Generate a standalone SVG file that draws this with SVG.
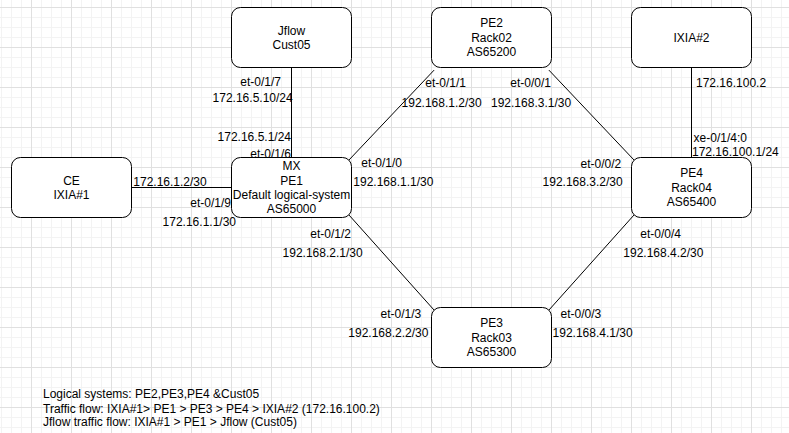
<svg xmlns="http://www.w3.org/2000/svg" width="789" height="433" viewBox="0 0 789 433">
<style>
.node rect{fill:#ffffff;stroke:#000000;stroke-width:1}
text{font-family:"Liberation Sans",Arial,Helvetica,sans-serif;font-size:12px;fill:#000000}
.c{text-anchor:middle}
.edges line{stroke:#000000;stroke-width:1;fill:none}
</style>
<defs>
<pattern id="grid" patternUnits="userSpaceOnUse" x="31" y="7" width="40" height="40">
<path d="M10.5 0V40M20.5 0V40M30.5 0V40M0 10.5H40M0 20.5H40M0 30.5H40" stroke="#f3f3f3" stroke-width="1" fill="none"/>
<path d="M0.5 0V40M0 0.5H40" stroke="#e0e0e0" stroke-width="1" fill="none"/>
</pattern>
</defs>
<rect x="0" y="0" width="789" height="433" fill="#ffffff"/>
<rect x="0" y="0" width="789" height="433" fill="url(#grid)"/>

<g id="connectors" class="edges">
<line x1="291.5" y1="67.5" x2="291.5" y2="157.5"/>
<line x1="131.5" y1="187.5" x2="231.5" y2="187.5"/>
<line x1="348.9" y1="160.1" x2="434.1" y2="70.1"/>
<line x1="548.9" y1="70.1" x2="634.1" y2="160.1"/>
<line x1="348.9" y1="214.9" x2="434.1" y2="310.1"/>
<line x1="548.9" y1="310.1" x2="634.1" y2="214.9"/>
<line x1="691.5" y1="67.5" x2="691.5" y2="157.5"/>
</g>

<g id="node-jflow" class="node">
<rect x="231.5" y="7.5" width="120" height="60" rx="9" ry="9"/>
<text class="c" x="291.5" y="34.6">Jflow</text>
<text class="c" x="291.5" y="49">Cust05</text>
</g>
<g id="node-pe2" class="node">
<rect x="431.5" y="7.5" width="120" height="60" rx="9" ry="9"/>
<text class="c" x="491.5" y="27.4">PE2</text>
<text class="c" x="491.5" y="41.8">Rack02</text>
<text class="c" x="491.5" y="56.2">AS65200</text>
</g>
<g id="node-ixia2" class="node">
<rect x="631.5" y="7.5" width="120" height="60" rx="9" ry="9"/>
<text class="c" x="691.5" y="41.8">IXIA#2</text>
</g>
<g id="node-ce" class="node">
<rect x="11.5" y="157.5" width="120" height="60" rx="9" ry="9"/>
<text class="c" x="71.5" y="184.6">CE</text>
<text class="c" x="71.5" y="199">IXIA#1</text>
</g>
<g id="node-pe1" class="node">
<rect x="231.5" y="157.5" width="120" height="60" rx="9" ry="9"/>
<text class="c" x="291.5" y="170.2">MX</text>
<text class="c" x="291.5" y="184.6">PE1</text>
<text class="c" x="291.5" y="199">Default logical-system</text>
<text class="c" x="291.5" y="213.4">AS65000</text>
</g>
<g id="node-pe4" class="node">
<rect x="631.5" y="157.5" width="120" height="60" rx="9" ry="9"/>
<text class="c" x="691.5" y="177.4">PE4</text>
<text class="c" x="691.5" y="191.8">Rack04</text>
<text class="c" x="691.5" y="206.2">AS65400</text>
</g>
<g id="node-pe3" class="node">
<rect x="431.5" y="307.5" width="120" height="60" rx="9" ry="9"/>
<text class="c" x="491.5" y="327.4">PE3</text>
<text class="c" x="491.5" y="341.8">Rack03</text>
<text class="c" x="491.5" y="356.2">AS65300</text>
</g>

<g id="labels">
<text x="240.3" y="86">et-0/1/7</text>
<text x="212.6" y="102">172.16.5.10/24</text>
<text x="217.6" y="141">172.16.5.1/24</text>
<text x="250.3" y="158">et-0/1/6</text>
<text x="133.3" y="186">172.16.1.2/30</text>
<text x="190.3" y="207">et-0/1/9</text>
<text x="162.6" y="226">172.16.1.1/30</text>
<text x="361.3" y="167">et-0/1/0</text>
<text x="353.3" y="186">192.168.1.1/30</text>
<text x="425.3" y="87">et-0/1/1</text>
<text x="401.6" y="107">192.168.1.2/30</text>
<text x="510.3" y="87">et-0/0/1</text>
<text x="491" y="107">192.168.3.1/30</text>
<text x="696" y="87">172.16.100.2</text>
<text x="693.6" y="142">xe-0/1/4:0</text>
<text x="692" y="156">172.16.100.1/24</text>
<text x="580.6" y="168">et-0/0/2</text>
<text x="542.6" y="186">192.168.3.2/30</text>
<text x="310.3" y="238">et-0/1/2</text>
<text x="282.6" y="257">192.168.2.1/30</text>
<text x="380.6" y="318">et-0/1/3</text>
<text x="348.3" y="337">192.168.2.2/30</text>
<text x="560.6" y="318">et-0/0/3</text>
<text x="552.6" y="337">192.168.4.1/30</text>
<text x="640.3" y="238">et-0/0/4</text>
<text x="623.3" y="257">192.168.4.2/30</text>
</g>

<g id="notes">
<text x="43" y="397.6">Logical systems: PE2,PE3,PE4 &amp;Cust05</text>
<text x="43" y="412.6">Traffic flow: IXIA#1&gt; PE1 &gt; PE3 &gt; PE4 &gt; IXIA#2 (172.16.100.2)</text>
<text x="43" y="426">Jflow traffic flow: IXIA#1 &gt; PE1 &gt; Jflow (Cust05)</text>
</g>
</svg>
